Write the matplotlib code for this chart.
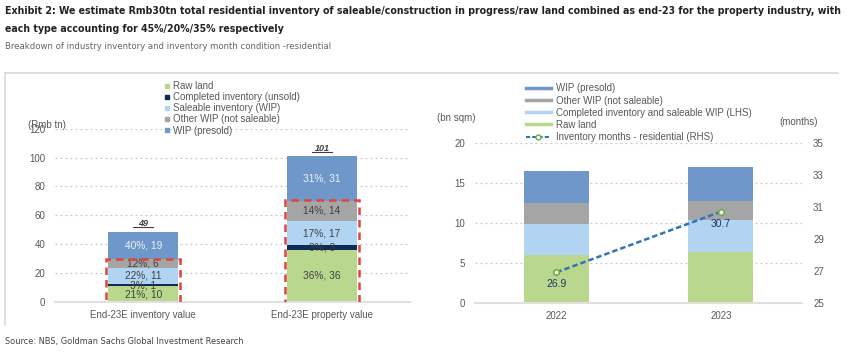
import matplotlib.pyplot as plt
from matplotlib.patches import Rectangle
from matplotlib.lines import Line2D
import numpy as np

# left panel: industry inventory value vs property value (Rmb tn)
left_cats = ["End-23E inventory value", "End-23E property value"]
raw_land = [10.5, 36]
completed = [2.0, 3]
saleable = [11.0, 17]
other_wip = [6.0, 14]
wip_presold = [19.0, 31]
left_totals = ["49", "101"]
raw_lbl = ["21%, 10", "36%, 36"]
comp_lbl = ["3%, 1", "3%, 3"]
sale_lbl = ["22%, 11", "17%, 17"]
other_lbl = ["12%, 6", "14%, 14"]
wip_lbl = ["40%, 19", "31%, 31"]

# right panel: floor area (bn sqm) and inventory months
years = ["2022", "2023"]
r_raw = [6.0, 6.4]
r_sale = [3.9, 3.9]
r_other = [2.6, 2.45]
r_wip = [4.0, 4.25]
inv_months = [26.9, 30.7]

C_WIP = "#7097c9"
C_OTHER = "#a5a5a5"
C_SALE = "#b0d4f1"
C_COMP = "#0c2c56"
C_RAW = "#b9d88d"
GREY = "#595959"

plt.rcParams["font.family"] = ["Liberation Sans", "DejaVu Sans"]

fig = plt.figure(figsize=(8.48, 3.54), dpi=100)

fig.text(0.006, 0.968, "Exhibit 2: We estimate Rmb30tn total residential inventory of saleable/construction in progress/raw land combined as end-23 for the property industry, with",
         family="DejaVu Sans", stretch="condensed", fontsize=7.55, fontweight="bold",
         color="#222222", va="center")
fig.text(0.006, 0.917, "each type accounting for 45%/20%/35% respectively",
         family="DejaVu Sans", stretch="condensed", fontsize=7.55, fontweight="bold",
         color="#222222", va="center")
fig.text(0.006, 0.868, "Breakdown of industry inventory and inventory month condition -residential",
         family="DejaVu Sans", stretch="condensed", fontsize=6.8, color="#666666", va="center")
fig.text(0.006, 0.036, "Source: NBS, Goldman Sachs Global Investment Research",
         family="DejaVu Sans", stretch="condensed", fontsize=6.6, color="#444444", va="center")

# panel frame lines
fig.add_artist(Line2D([0.006, 0.006], [0.082, 0.794], color="#d9d9d9", lw=1.2))
fig.add_artist(Line2D([0.006, 0.988], [0.794, 0.794], color="#d9d9d9", lw=1.2))

# ---- left chart
ax = fig.add_axes([0.065, 0.148, 0.4186, 0.488])
x = np.arange(len(left_cats))
w = 0.39
series = [
    (raw_land, C_RAW, raw_lbl, "#404040", "Raw land"),
    (completed, C_COMP, comp_lbl, "#404040", "Completed inventory (unsold)"),
    (saleable, C_SALE, sale_lbl, "#404040", "Saleable inventory (WIP)"),
    (other_wip, C_OTHER, other_lbl, "#404040", "Other WIP (not saleable)"),
    (wip_presold, C_WIP, wip_lbl, "#eef3fa", "WIP (presold)"),
]
bottom = np.zeros(len(x))
for vals, col, lbls, tcol, name in series:
    vals = np.array(vals)
    ax.bar(x, vals, w, bottom=bottom, color=col, zorder=2)
    for i in range(len(x)):
        ax.text(x[i], bottom[i] + vals[i] / 2, lbls[i], ha="center", va="center",
                fontsize=7.3, color=tcol, zorder=4)
    bottom = bottom + vals
    if name == "Other WIP (not saleable)":
        box_top = bottom.copy()
for i in range(len(x)):
    ax.add_patch(Rectangle((x[i] - w / 2 - 0.01, -0.8), w + 0.02, box_top[i] + 1.2,
                           fill=False, ec="#e0443a", lw=1.8, ls=(0, (3, 2)), zorder=5))
    ax.text(x[i], bottom[i] + 5.5, left_totals[i], ha="center", va="center",
            fontsize=6.5, fontweight="bold", style="italic", color="#404040")
    ax.plot([x[i] - 0.055, x[i] + 0.055], [bottom[i] + 3.2] * 2, color="#404040", lw=0.8)

ax.set_xlim(-0.492, 1.492)
ax.set_ylim(0, 120)
ax.set_yticks(range(0, 121, 20))
ax.set_xticks(x)
ax.set_xticklabels(left_cats)
ax.grid(axis="y", ls=(0, (1.5, 2.5)), color="#c8c8c8", lw=0.9, zorder=0)
for s in ["top", "right", "left"]:
    ax.spines[s].set_visible(False)
ax.spines["bottom"].set_color("#e0e0e0")
ax.spines["bottom"].set_linewidth(1.5)
ax.tick_params(length=0, labelsize=7, colors=GREY, pad=7)
ax.tick_params(axis="x", pad=6)
fig.text(0.033, 0.648, "(Rmb tn)", fontsize=7, color=GREY, va="center")

handles = [Line2D([], [], ls="", marker="s", ms=3, color=c) for _, c, _, _, _ in series]
names = [n for _, _, _, _, n in series]
fig.legend(handles, names, loc="upper left", bbox_to_anchor=(0.188, 0.785), frameon=False,
           fontsize=7, labelcolor=GREY, handlelength=0.6, handletextpad=0.3,
           labelspacing=0.12, borderpad=0)

# ---- right chart
ax2 = fig.add_axes([0.5601, 0.145, 0.3856, 0.451])
xr = np.arange(len(years))
wr = 0.395
rseries = [
    (r_raw, C_RAW, "Raw land"),
    (r_sale, C_SALE, "Completed inventory and saleable WIP (LHS)"),
    (r_other, C_OTHER, "Other WIP (not saleable)"),
    (r_wip, C_WIP, "WIP (presold)"),
]
b = np.zeros(len(xr))
for vals, col, name in rseries:
    ax2.bar(xr, vals, wr, bottom=b, color=col, zorder=2)
    b = b + np.array(vals)
ax2.set_xlim(-0.495, 1.492)
ax2.set_ylim(0, 20)
ax2.set_yticks(range(0, 21, 5))
ax2.set_xticks(xr)
ax2.set_xticklabels(years)
ax2.grid(axis="y", ls=(0, (1.5, 2.5)), color="#c8c8c8", lw=0.9, zorder=0)
for s in ["top", "right", "left"]:
    ax2.spines[s].set_visible(False)
ax2.spines["bottom"].set_color("#e0e0e0")
ax2.spines["bottom"].set_linewidth(1.5)
ax2.tick_params(length=0, labelsize=7, colors=GREY, pad=7)
ax2.tick_params(axis="x", pad=6)

ax3 = ax2.twinx()
ax3.plot(xr, inv_months, ls=(0, (2.2, 1.2)), color="#2e75b6", lw=1.8, marker="o", ms=4,
         mfc="white", mec="#70ad47", mew=1.2, zorder=6)
for i in range(len(xr)):
    ax3.text(xr[i], inv_months[i] - 0.75, f"{inv_months[i]:.1f}", ha="center", va="center",
             fontsize=7.5, color="#203864")
ax3.set_ylim(25, 35)
ax3.set_yticks(range(25, 36, 2))
for s in ["top", "right", "left", "bottom"]:
    ax3.spines[s].set_visible(False)
ax3.tick_params(length=0, labelsize=7, colors=GREY, pad=8)

fig.text(0.515, 0.668, "(bn sqm)", fontsize=7, color=GREY, va="center")
fig.text(0.919, 0.655, "(months)", fontsize=7, color=GREY, va="center")

rh = [Line2D([], [], color=C_WIP, lw=2.5), Line2D([], [], color=C_OTHER, lw=2.5),
      Line2D([], [], color=C_SALE, lw=2.5), Line2D([], [], color=C_RAW, lw=2.5),
      Line2D([], [], color="#2e75b6", lw=1.5, ls=(0, (2, 1)), marker="o", ms=3.5,
             mfc="white", mec="#70ad47")]
rn = ["WIP (presold)", "Other WIP (not saleable)", "Completed inventory and saleable WIP (LHS)",
      "Raw land", "Inventory months - residential (RHS)"]
fig.legend(rh, rn, loc="upper left", bbox_to_anchor=(0.614, 0.778), frameon=False,
           fontsize=7, labelcolor=GREY, handlelength=2.6, handletextpad=0.5,
           labelspacing=0.22, borderpad=0)

fig.savefig("out.png", dpi=100)
